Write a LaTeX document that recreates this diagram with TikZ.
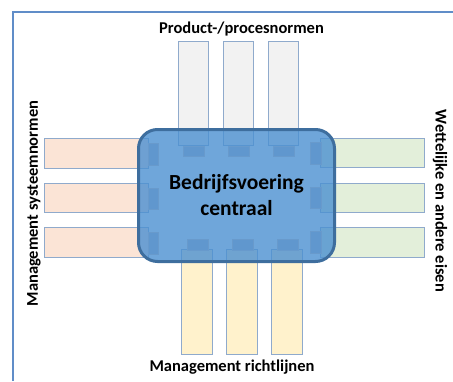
\documentclass[tikz,border=0pt]{standalone}
\usepackage{fontspec}
\setmainfont{Carlito}
\usetikzlibrary{shapes,backgrounds}
\definecolor{framec}{RGB}{96,141,200}
\definecolor{barline}{RGB}{143,170,204}
\definecolor{greyf}{RGB}{242,242,242}
\definecolor{peachf}{RGB}{251,228,214}
\definecolor{greenf}{RGB}{227,239,218}
\definecolor{yellowf}{RGB}{255,242,204}
\definecolor{corefill}{RGB}{75,144,209}
\definecolor{coreline}{RGB}{62,110,158}
\definecolor{tabfill}{RGB}{96,151,206}
\definecolor{tabline}{RGB}{104,154,204}
\tikzstyle{bar}=[draw=barline,line width=0.8pt,inner sep=0pt]
\tikzstyle{vbar}=[bar,minimum width=30.5pt,minimum height=104.5pt]
\tikzstyle{hbar}=[bar,minimum width=104pt,minimum height=29.5pt]
\tikzstyle{vtab}=[draw=tabline,line width=0.5pt,fill=tabfill,inner sep=0pt,minimum width=21pt,minimum height=10.5pt]
\tikzstyle{htab}=[draw=tabline,line width=0.5pt,fill=tabfill,inner sep=0pt,minimum width=10.5pt,minimum height=21.5pt]
\tikzstyle{core}=[draw=coreline,line width=3pt,fill=corefill,fill opacity=0.8,text opacity=1,rounded corners=19pt,minimum width=196pt,minimum height=132pt,align=center,font=\fontsize{21.5}{26}\selectfont\bfseries]
\tikzstyle{lbl}=[font=\fontsize{16.5}{18}\selectfont\bfseries,inner sep=0pt]

\begin{document}
\begin{tikzpicture}[x=1pt,y=-1pt]
    \useasboundingbox (0,0) rectangle (453,381);
    \draw[framec,line width=1.2pt] (13,381) -- (13,12) -- (453,12);
    % bars
    \node[vbar,fill=greyf] (t1) at (193.5,93.5) {};
    \node[vbar,fill=greyf] (t2) at (238.5,93.5) {};
    \node[vbar,fill=greyf] (t3) at (283.5,93.5) {};
    \node[vbar,fill=yellowf] (b1) at (197,302) {};
    \node[vbar,fill=yellowf] (b2) at (242,302) {};
    \node[vbar,fill=yellowf] (b3) at (287,302) {};
    \node[hbar,fill=peachf] (l1) at (96,153.5) {};
    \node[hbar,fill=peachf] (l2) at (96,198) {};
    \node[hbar,fill=peachf] (l3) at (96,242.5) {};
    \node[hbar,fill=greenf] (r1) at (372.5,153) {};
    \node[hbar,fill=greenf] (r2) at (372.5,198) {};
    \node[hbar,fill=greenf] (r3) at (372.5,242.5) {};
    % centre
    \node[core] (c) at (236.5,195.5) {Bedrijfsvoering\\centraal};
    % tabs
    \node[vtab] (tt1) at (193.5,151) {};
    \node[vtab] (tt2) at (238.5,151) {};
    \node[vtab] (tt3) at (283.5,151) {};
    \node[vtab] (bt1) at (197.5,244.5) {};
    \node[vtab] (bt2) at (242.5,244.5) {};
    \node[vtab] (bt3) at (287.5,244.5) {};
    \node[htab] (lt1) at (153,154) {};
    \node[htab] (lt2) at (153,198.5) {};
    \node[htab] (lt3) at (153,243) {};
    \node[htab] (rt1) at (315.5,153) {};
    \node[htab] (rt2) at (315.5,197.5) {};
    \node[htab] (rt3) at (315.5,242) {};
    % labels
    \node[lbl] (top) at (241.5,29) {Product-/procesnormen};
    \node[lbl] (bot) at (232,367) {Management richtlijnen};
    \node[lbl,rotate=90] (left) at (34,203.5) {Management systeemnormen};
    \node[lbl,rotate=-90] (right) at (440,201) {Wettelijke en andere eisen};
\end{tikzpicture}
\end{document}
